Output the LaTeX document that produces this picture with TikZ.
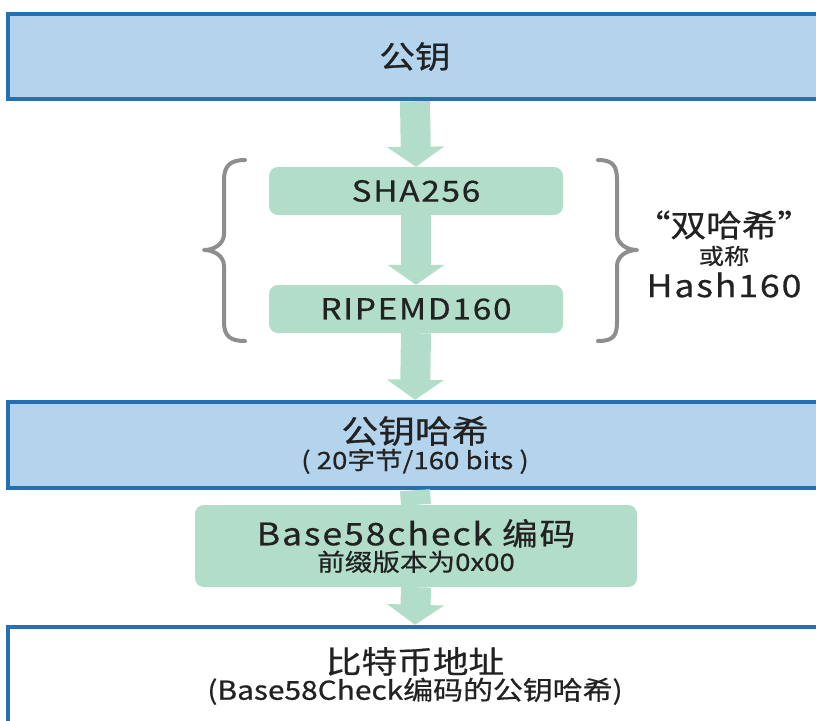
\documentclass[tikz,border=0pt]{standalone}
\usepackage{fontspec}
\setmainfont[FakeStretch=1.15, FakeBold=0.6]{Noto Sans CJK SC}
\newfontfamily\lsp[FakeStretch=1.15, FakeBold=0.6, LetterSpace=6]{Noto Sans CJK SC}
\usetikzlibrary{arrows.meta}
\definecolor{blueborder}{RGB}{36,112,179}
\definecolor{bluefill}{RGB}{180,211,236}
\definecolor{mint}{RGB}{178,222,201}
\definecolor{bracegray}{RGB}{142,142,142}
\definecolor{ink}{RGB}{34,34,34}
\newcommand{\fs}[1]{\fontsize{#1}{#1}\selectfont}
\begin{document}
\begin{tikzpicture}[x=1pt,y=-1pt,
  bluebox/.style={draw=blueborder, line width=4.5pt, fill=bluefill, rectangle, inner sep=0pt, text=ink, align=center},
  whitebox/.style={bluebox, fill=white},
  greenbox/.style={fill=mint, rounded corners=9pt, rectangle, inner sep=0pt, text=ink, align=center},
  fat/.style={draw=mint, line width=30pt, -{Triangle[width=56pt,length=20pt]}},
  fatshaft/.style={draw=mint, line width=30pt},
  bracepath/.style={draw=bracegray, line width=4pt, line cap=round, line join=round},
  lbl/.style={text=ink, align=center, inner sep=0pt}
]
\useasboundingbox (0,0) rectangle (816,720);
\fill[white] (0,0) rectangle (816,720);

\node[bluebox, minimum width=814pt, minimum height=85pt] (pk) at (415,56.5) {\fs{31}公钥};
\node[greenbox, minimum width=294pt, minimum height=48pt] (sha) at (416,191) {\lsp\fs{29}SHA256};
\node[greenbox, minimum width=294pt, minimum height=48pt] (rip) at (416,309) {\lsp\fs{29}RIPEMD160};
\node[bluebox, minimum width=814pt, minimum height=86pt] (pkh) at (415,445)
  {\fs{32}公钥哈希\\[2pt]\fs{24}( 20字节/160 bits )};
\node[greenbox, minimum width=442pt, minimum height=82pt] (b58) at (416,546)
  {\lsp\fs{31}Base58check 编码\\[2pt]\fs{24}前缀版本为0x00};
\node[whitebox, minimum width=814pt, minimum height=98pt] (addr) at (415,676)
  {\fs{31}比特币地址\\[1pt]\fs{26}(Base58Check编码的公钥哈希)};

\draw[fat] (pk.south) -- (sha.north);
\draw[fat] (sha.south) -- (rip.north);
\draw[fat] (rip.south) -- (pkh.north);
\draw[fatshaft] (pkh.south) -- (b58.north);
\draw[fat] (b58.south) -- (addr.north);

% braces
\draw[bracepath] (245,160) .. controls (230,160) and (224,166) .. (224,180) -- (224,234)
  .. controls (224,244) and (214,250) .. (204,250)
  .. controls (214,250) and (224,256) .. (224,266) -- (224,322)
  .. controls (224,336) and (230,341) .. (245,341);
\draw[bracepath] (598,160) .. controls (613,160) and (617,166) .. (617,180) -- (617,234)
  .. controls (617,244) and (627,250) .. (637,250)
  .. controls (627,250) and (617,256) .. (617,266) -- (617,322)
  .. controls (617,336) and (613,341) .. (598,341);

\node[lbl] (dh) at (724,225) {\fs{31}“双哈希”};
\node[lbl] (hc) at (724,256) {\fs{22}或称};
\node[lbl] (h160) at (724,285) {\lsp\fs{31}Hash160};
\end{tikzpicture}
\end{document}
